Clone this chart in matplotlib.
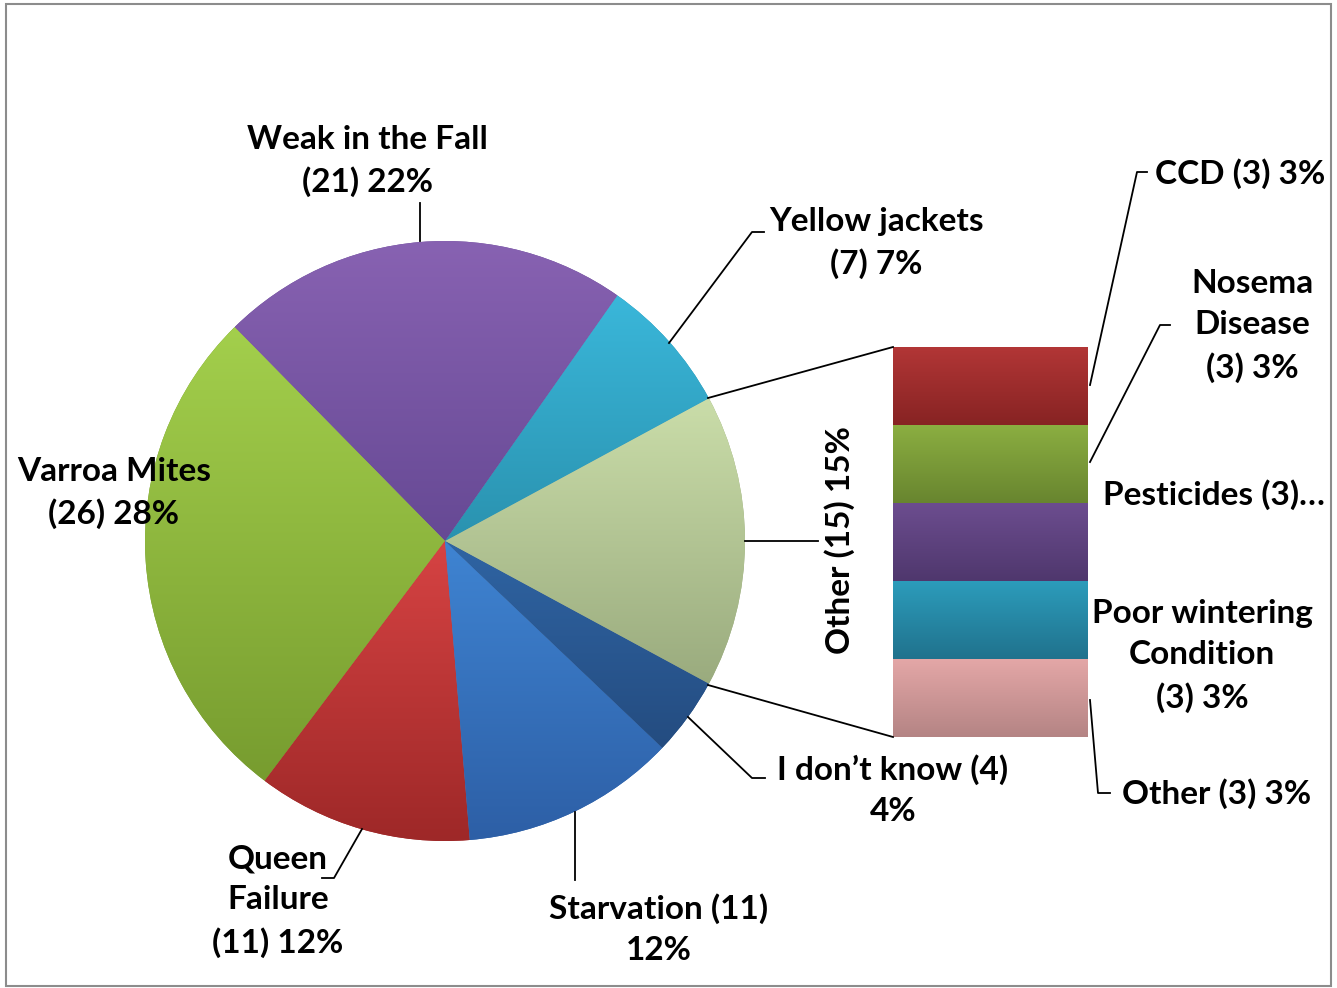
import numpy as np
import matplotlib
matplotlib.use("Agg")
import matplotlib.pyplot as plt
from matplotlib.colors import LinearSegmentedColormap
from matplotlib.patches import Rectangle

# ---- data ----
pie_labels = ["Other (15) 15%", "Yellow jackets\n(7) 7%", "Weak in the Fall\n(21) 22%",
              "Varroa Mites\n(26) 28%", "Queen\nFailure\n(11) 12%", "Starvation (11)\n12%",
              "I don\u2019t know (4)\n4%"]
pie_values = [15, 7, 21, 26, 11, 11, 4]
pie_top = ["#CADDA9", "#3AB7DA", "#8862B2", "#A3CF4C", "#D64343", "#3F84D2", "#2F64A3"]
pie_bot = ["#9AAB7E", "#2A92AF", "#664994", "#779C2F", "#9E2828", "#2D5FA6", "#244C80"]

bar_labels = ["Other (3) 3%", "Poor wintering\nCondition\n(3) 3%", "Pesticides (3)\u2026",
              "Nosema\nDisease\n(3) 3%", "CCD (3) 3%"]
bar_values = [3, 3, 3, 3, 3]
bar_top = ["#E4A7A7", "#2C9CBB", "#6C4D8F", "#8BAE41", "#B23636"]
bar_bot = ["#B48484", "#20728D", "#4F376D", "#68852F", "#872323"]

W, H = 1337, 988
fig = plt.figure(figsize=(W / 100, H / 100), dpi=100)
ax = fig.add_axes([0, 0, 1, 1])

def Y(y):
    return H - y

FONT = dict(family="Lato", weight="bold", fontsize=24, color="black")

# pie: Other slice centred on 0 degrees
start = -pie_values[0] / sum(pie_values) * 360 / 2
wedges, _ = ax.pie(pie_values, startangle=start, counterclock=True,
                   center=(445, Y(541)), radius=300, frame=True,
                   wedgeprops=dict(linewidth=0))

def grad_fill(patch, top, bot, extent):
    cmap = LinearSegmentedColormap.from_list("g", [bot, top])
    g = np.linspace(0, 1, 256).reshape(-1, 1)
    im = ax.imshow(g, cmap=cmap, extent=extent, origin="lower", aspect="auto",
                   interpolation="bilinear", zorder=patch.get_zorder() + 0.1)
    im.set_clip_path(patch)

for w, t, b in zip(wedges, pie_top, pie_bot):
    w.set_facecolor(b)
    ext = w.get_path().get_extents()
    grad_fill(w, t, b, (ext.x0, ext.x1, ext.y0, ext.y1))

# bar of "Other"
scale = 390 / sum(bar_values)
bottoms = np.concatenate([[0], np.cumsum(bar_values)[:-1]]) * scale + Y(737)
bars = ax.bar([990.5] * len(bar_values), np.array(bar_values) * scale, width=195,
              bottom=bottoms, linewidth=0, zorder=2)
for r, t, b in zip(bars, bar_top, bar_bot):
    r.set_facecolor(b)
    x0, y0 = r.get_x(), r.get_y()
    grad_fill(r, t, b, (x0, x0 + r.get_width(), y0, y0 + r.get_height()))

# connector lines
lk = dict(color="black", lw=1.3, zorder=5)
ax.plot([708, 893], [Y(398), Y(347)], **lk)
ax.plot([708, 893], [Y(685), Y(737)], **lk)

# leader lines
ax.plot([420, 420], [Y(241), Y(203)], **lk)
ax.plot([669, 752, 764], [Y(343), Y(232), Y(232)], **lk)
ax.plot([362, 334, 322], [Y(829), Y(878), Y(878)], **lk)
ax.plot([575, 575], [Y(812), Y(880)], **lk)
ax.plot([688, 752, 765], [Y(717), Y(778), Y(778)], **lk)
ax.plot([745, 818], [Y(541), Y(541)], **lk)
ax.plot([1090, 1137, 1147], [Y(385), Y(172), Y(172)], **lk)
ax.plot([1090, 1160, 1170], [Y(462), Y(325), Y(325)], **lk)
ax.plot([1090, 1098, 1110], [Y(700), Y(793), Y(793)], **lk)

# labels
ls = 1.5
ax.text(840, Y(540), pie_labels[0], rotation=90, ha="center", va="center", **FONT)
ax.text(876, Y(243), pie_labels[1], ha="center", va="center", linespacing=ls, **FONT)
ax.text(367, Y(161), pie_labels[2], ha="center", va="center", linespacing=ls, **FONT)
ax.text(114, Y(493), pie_labels[3], ha="center", va="center", linespacing=ls, **FONT)
ax.text(278, Y(901), pie_labels[4], ha="center", va="center", linespacing=ls, **FONT)
ax.text(659, Y(929), pie_labels[5], ha="center", va="center", linespacing=ls, **FONT)
ax.text(893, Y(790), pie_labels[6], ha="center", va="center", linespacing=ls, **FONT)

ax.text(1217, Y(794), bar_labels[0], ha="center", va="center", **FONT)
ax.text(1202, Y(656), bar_labels[1], ha="center", va="center", linespacing=ls, **FONT)
ax.text(1103, Y(495), bar_labels[2], ha="left", va="center", **FONT)
ax.text(1252, Y(326), bar_labels[3], ha="center", va="center", linespacing=ls, **FONT)
ax.text(1240, Y(174), bar_labels[4], ha="center", va="center", **FONT)

# chart border
ax.add_patch(Rectangle((6, Y(986)), 1325, 982, fill=False, edgecolor="#8C8C8C",
                       lw=1.5, zorder=6))

ax.set_xlim(0, W)
ax.set_ylim(0, H)
ax.set_aspect("auto")
ax.axis("off")
fig.savefig("out.png", dpi=100)
